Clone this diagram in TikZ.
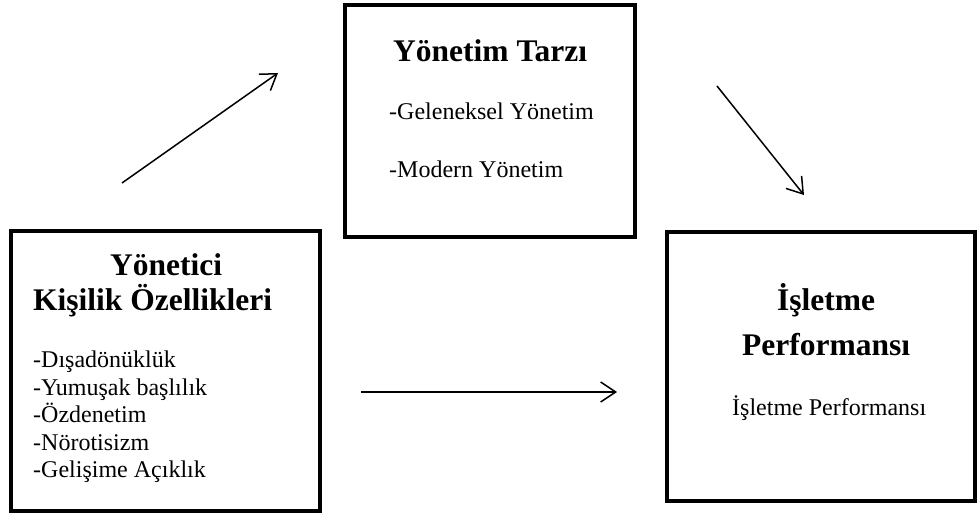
\documentclass[tikz,border=0pt]{standalone}
\usepackage{fontspec}
\setmainfont{Liberation Serif}
\usetikzlibrary{arrows.meta}
\begin{document}
\begin{tikzpicture}[x=1pt,y=-1pt,
  box/.style={draw=black,line width=4pt,fill=white,rectangle,inner sep=0pt,outer sep=0pt},
  ttl/.style={anchor=base west,inner sep=0pt,font=\fontsize{31.5}{36}\selectfont\bfseries},
  itm/.style={anchor=base west,inner sep=0pt,font=\fontsize{24}{28}\selectfont},
  conn/.style={line width=1.5pt,-{Straight Barb[length=15pt,width=20pt,line width=1.5pt]}}]
\useasboundingbox (0,0) rectangle (978,516);
% boxes
\node[box,minimum width=309pt,minimum height=280pt] (leftbox) at (165.5,371) {};
\node[box,minimum width=290pt,minimum height=232pt] (topbox) at (490,121) {};
\node[box,minimum width=308pt,minimum height=269pt] (rightbox) at (821,366.5) {};
% left box text
\node[ttl] (l1) at (110,275) {Yönetici};
\node[ttl] (l2) at (33,310) {Kişilik Özellikleri};
\node[itm] (l3) at (33,367) {-Dışadönüklük};
\node[itm] (l4) at (33,395) {-Yumuşak başlılık};
\node[itm] (l5) at (33,422) {-Özdenetim};
\node[itm] (l6) at (33,450) {-Nörotisizm};
\node[itm] (l7) at (33,477) {-Gelişime Açıklık};
% top box text
\node[ttl] (t1) at (393,62) {Yönetim Tarzı};
\node[itm] (t2) at (389,120) {-Geleneksel Yönetim};
\node[itm] (t3) at (389,178) {-Modern Yönetim};
% right box text
\node[ttl] (r1) at (777,310) {İşletme};
\node[ttl] (r2) at (742,355) {Performansı};
\node[itm] (r3) at (732,415) {İşletme Performansı};
% arrows
\coordinate (a1s) at (122,183);
\coordinate (a1e) at (278,73);
\coordinate (a2s) at (717,86);
\coordinate (a2e) at (804,195);
\coordinate (a3s) at (361,392);
\coordinate (a3e) at (617,392);
\draw[conn] (a1s) -- (a1e);
\draw[conn] (a2s) -- (a2e);
\draw[conn] (a3s) -- (a3e);
\end{tikzpicture}
\end{document}
